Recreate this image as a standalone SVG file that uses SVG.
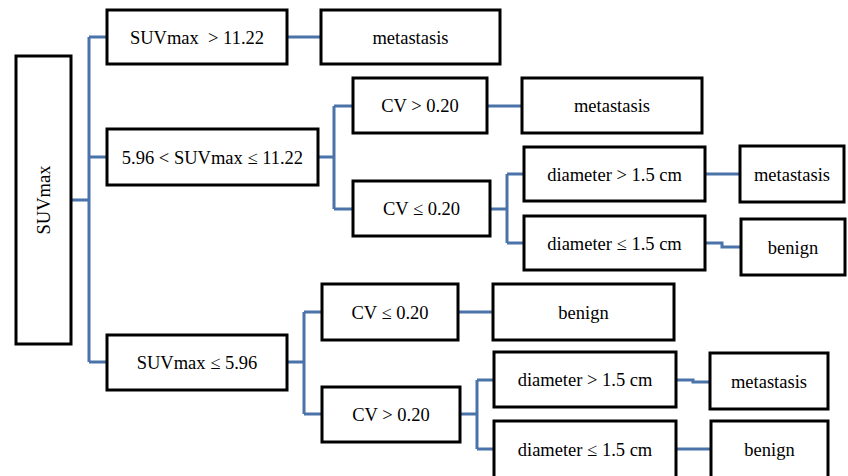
<svg xmlns="http://www.w3.org/2000/svg" width="848" height="476" viewBox="0 0 848 476">
<style>
.b{fill:#fff;stroke:#000;stroke-width:3}
.t{font-family:"Liberation Serif","Times New Roman",serif;font-size:18.5px;fill:#000;text-anchor:middle}
.c{fill:none;stroke:#4a73a9;stroke-width:3;stroke-linejoin:miter}
</style>
<rect width="848" height="476" fill="#fff"/>
<g id="connectors">
<path class="c" d="M71,200 H89 M89,37 V362 M89,37 H107 M89,157 H107 M89,362 H107"/>
<path class="c" d="M287,37 H321"/>
<path class="c" d="M318,157 H334 M334,106 V209 M334,106 H353 M334,209 H353"/>
<path class="c" d="M487,106 H522"/>
<path class="c" d="M490,209 H507 M507,174 V243 M507,174 H524 M507,243 H524"/>
<path class="c" d="M705,174 H740"/>
<path class="c" d="M705,243 H722 V247 H741"/>
<path class="c" d="M287,362 H304 M304,312 V414 M304,312 H322 M304,414 H322"/>
<path class="c" d="M458,312 H493"/>
<path class="c" d="M460,414 H477 M477,380 V449 M477,380 H494 M477,449 H494"/>
<path class="c" d="M676,380 H693 V382 H710"/>
<path class="c" d="M676,449 H711"/>
</g>
<g id="root"><rect class="b" x="16" y="56" width="55" height="288"/><text class="t" transform="translate(49.5,200) rotate(-90)">SUVmax</text></g>
<g id="suv_high"><rect class="b" x="107" y="10" width="180" height="54"/><text class="t" x="197" y="43.5" xml:space="preserve">SUVmax  &gt; 11.22</text></g>
<g id="suv_mid"><rect class="b" x="107" y="129" width="211" height="56"/><text class="t" x="212.5" y="163.5">5.96 &lt; SUVmax ≤ 11.22</text></g>
<g id="suv_low"><rect class="b" x="107" y="335" width="180" height="55"/><text class="t" x="197" y="368.5">SUVmax ≤ 5.96</text></g>
<g id="met1"><rect class="b" x="321" y="10" width="179" height="54"/><text class="t" x="410.5" y="43.5">metastasis</text></g>
<g id="cv_mid_high"><rect class="b" x="353" y="78" width="134" height="55"/><text class="t" x="420" y="112">CV &gt; 0.20</text></g>
<g id="cv_mid_low"><rect class="b" x="353" y="181" width="137" height="55"/><text class="t" x="421.5" y="215">CV ≤ 0.20</text></g>
<g id="met2"><rect class="b" x="522" y="78" width="180" height="55"/><text class="t" x="612" y="112">metastasis</text></g>
<g id="dia_mid_high"><rect class="b" x="524" y="147" width="181" height="54"/><text class="t" x="614.5" y="180.5">diameter &gt; 1.5 cm</text></g>
<g id="dia_mid_low"><rect class="b" x="524" y="216" width="181" height="54"/><text class="t" x="614.5" y="249.5">diameter ≤ 1.5 cm</text></g>
<g id="met3"><rect class="b" x="740" y="146" width="104" height="56"/><text class="t" x="792" y="180.5">metastasis</text></g>
<g id="ben1"><rect class="b" x="741" y="219" width="104" height="56"/><text class="t" x="793" y="253.5">benign</text></g>
<g id="cv_low_low"><rect class="b" x="322" y="284" width="136" height="56"/><text class="t" x="390" y="318.5">CV ≤ 0.20</text></g>
<g id="ben2"><rect class="b" x="493" y="284" width="181" height="56"/><text class="t" x="583.5" y="318.5">benign</text></g>
<g id="cv_low_high"><rect class="b" x="322" y="387" width="138" height="55"/><text class="t" x="391" y="420.5">CV &gt; 0.20</text></g>
<g id="dia_low_high"><rect class="b" x="494" y="352" width="182" height="55"/><text class="t" x="585" y="386">diameter &gt; 1.5 cm</text></g>
<g id="dia_low_low"><rect class="b" x="494" y="421" width="182" height="58"/><text class="t" x="585" y="455.5">diameter ≤ 1.5 cm</text></g>
<g id="met4"><rect class="b" x="710" y="353" width="118" height="56"/><text class="t" x="769" y="387.5">metastasis</text></g>
<g id="ben3"><rect class="b" x="711" y="421" width="117" height="58"/><text class="t" x="769.5" y="455.5">benign</text></g>
</svg>
